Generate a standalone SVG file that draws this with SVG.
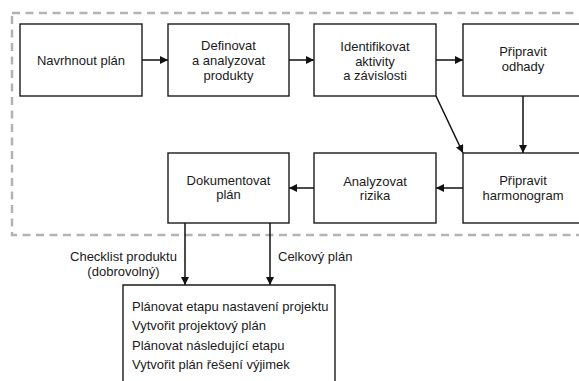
<svg xmlns="http://www.w3.org/2000/svg" width="579" height="381" viewBox="0 0 579 381">
<style>
.box{fill:#fff;stroke:#1a1a1a;stroke-width:1.4}
.t{font-family:"Liberation Sans",Arial,sans-serif;font-size:13px;fill:#1a1a1a;text-anchor:middle}
.l{font-family:"Liberation Sans",Arial,sans-serif;font-size:13px;fill:#1a1a1a}
.c{stroke:#111;stroke-width:1.5;fill:none;marker-end:url(#ah)}
</style>
<defs>
<marker id="ah" viewBox="0 0 10 10" refX="10" refY="5" markerWidth="8" markerHeight="8" markerUnits="userSpaceOnUse" orient="auto">
<path d="M0,0 L10,5 L0,10 Z" fill="#111"/>
</marker>
</defs>
<rect x="12" y="13" width="580" height="222" fill="none" stroke="#b3b3b3" stroke-width="2.5" stroke-dasharray="8,5.5"/>
<g id="connectors">
<line class="c" x1="142" y1="60" x2="168" y2="60"/>
<line class="c" x1="289" y1="60" x2="314" y2="60"/>
<line class="c" x1="436" y1="60" x2="463" y2="60"/>
<line class="c" x1="523" y1="96" x2="523" y2="153"/>
<line class="c" x1="436" y1="96" x2="463" y2="153"/>
<line class="c" x1="463" y1="188" x2="436" y2="188"/>
<line class="c" x1="314" y1="188" x2="289" y2="188"/>
<line class="c" x1="185" y1="223" x2="185" y2="285"/>
<line class="c" x1="270" y1="223" x2="270" y2="285"/>
<text class="t" x="123.5" y="261">Checklist produktu</text>
<text class="t" x="123.5" y="276">(dobrovolný)</text>
<text class="l" x="278" y="261">Celkový plán</text>
</g>
<g id="n1"><rect class="box" x="20" y="24" width="122" height="72"/><text class="t" x="81" y="65">Navrhnout plán</text></g>
<g id="n2"><rect class="box" x="168" y="24" width="121" height="72"/><text class="t" x="228.5" y="50">Definovat</text><text class="t" x="228.5" y="65">a analyzovat</text><text class="t" x="228.5" y="80">produkty</text></g>
<g id="n3"><rect class="box" x="314" y="24" width="122" height="72"/><text class="t" x="375" y="51">Identifikovat</text><text class="t" x="375" y="66">aktivity</text><text class="t" x="375" y="80">a závislosti</text></g>
<g id="n4"><rect class="box" x="463" y="24" width="120" height="72"/><text class="t" x="523" y="56">Připravit</text><text class="t" x="523" y="71">odhady</text></g>
<g id="n5"><rect class="box" x="463" y="153" width="120" height="70"/><text class="t" x="523" y="185">Připravit</text><text class="t" x="523" y="200">harmonogram</text></g>
<g id="n6"><rect class="box" x="314" y="153" width="122" height="70"/><text class="t" x="375" y="186">Analyzovat</text><text class="t" x="375" y="200">rizika</text></g>
<g id="n7"><rect class="box" x="168" y="153" width="121" height="70"/><text class="t" x="228.5" y="185">Dokumentovat</text><text class="t" x="228.5" y="199">plán</text></g>
<g id="n8"><path class="box" d="M123,383 L123,285 L335,285 L335,383"/>
<text class="l" x="132" y="311">Plánovat etapu nastavení projektu</text>
<text class="l" x="132" y="330">Vytvořit projektový plán</text>
<text class="l" x="132" y="350">Plánovat následující etapu</text>
<text class="l" x="132" y="369">Vytvořit plán řešení výjimek</text>
</g>
</svg>
